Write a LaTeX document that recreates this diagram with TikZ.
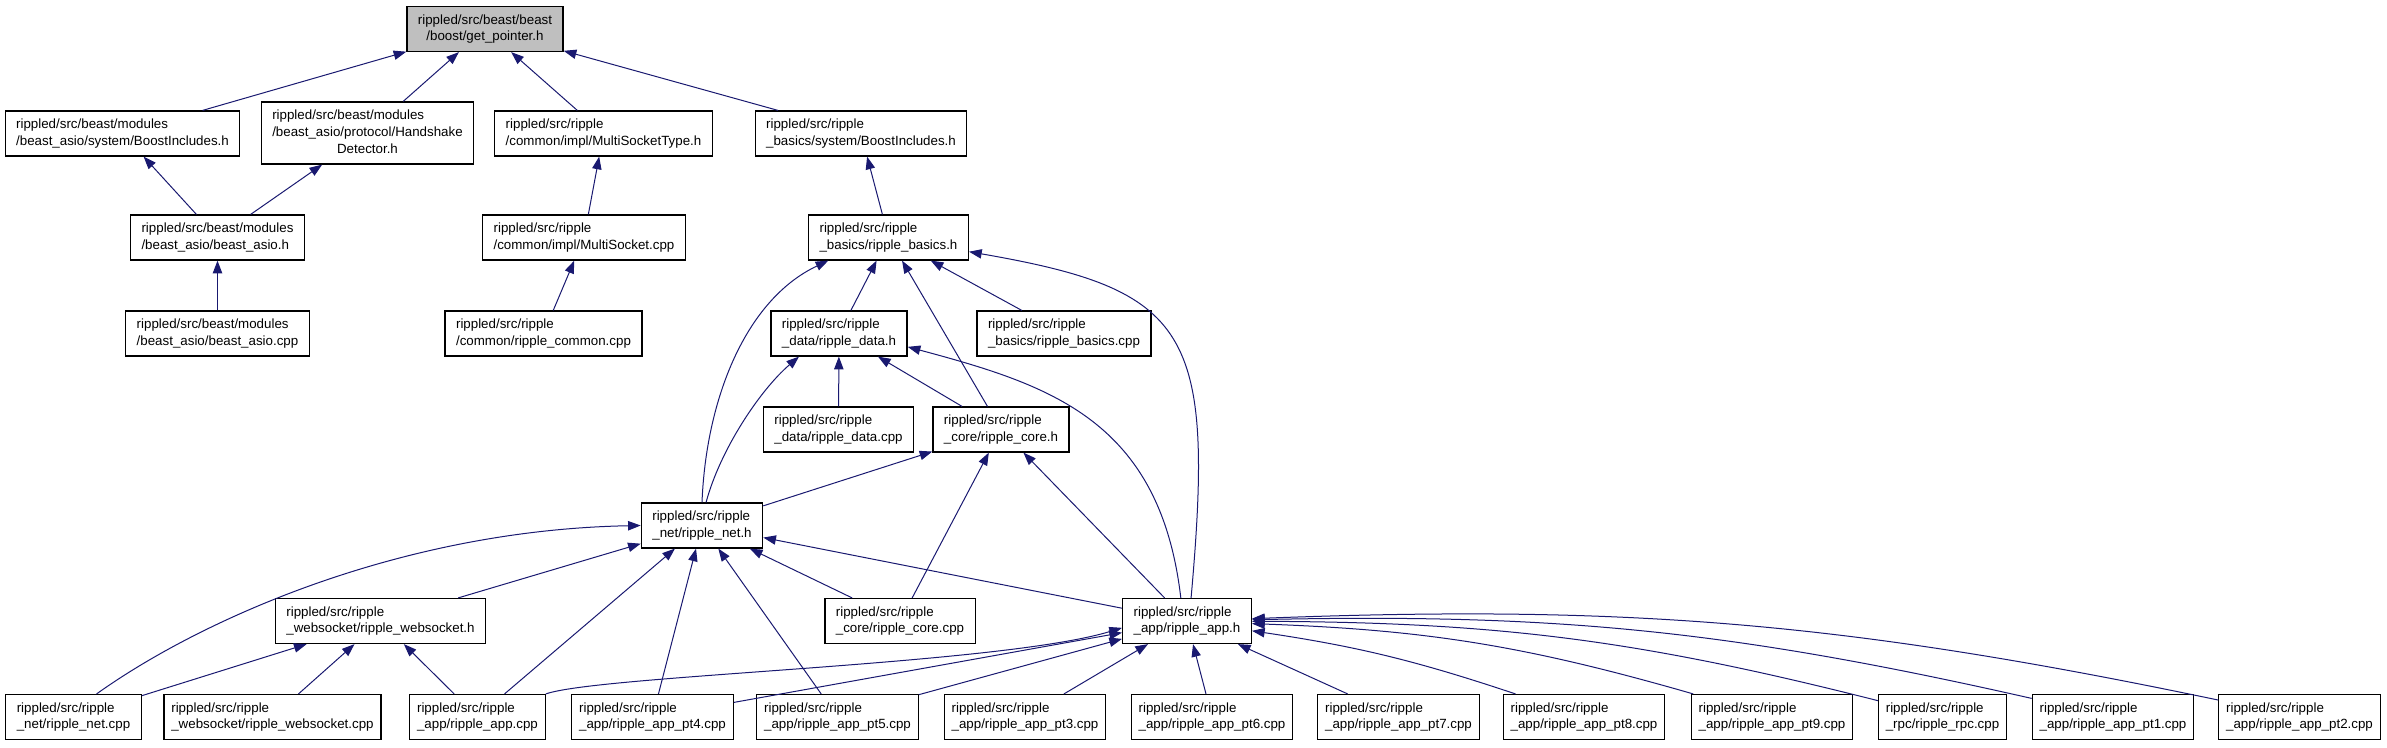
\documentclass[tikz,border=0pt]{standalone}
\usepackage{fontspec}
\setmainfont{Liberation Sans}
\usetikzlibrary{arrows.meta}
\definecolor{edgeblue}{RGB}{25,25,112}
\tikzset{
  file/.style={rectangle, draw=black, line width=0.9pt, align=left, font=\fontsize{10}{12.5}\selectfont, inner xsep=8.25pt, inner ysep=2pt, minimum height=33.75pt},
  root/.style={file, fill=gray!50, align=center},
  tall/.style={file, minimum height=46.5pt},
  leaf/.style={file, inner xsep=5.5pt},
  inc/.style={-{Triangle[length=9.5pt,width=7pt]}, draw=edgeblue, line width=0.75pt}
}

\begin{document}
\begin{tikzpicture}[x=0.75pt, y=-0.75pt]
\useasboundingbox (0,0) rectangle (2387,747);
\node[root] (gp) at (485,29) {rippled/src/beast/beast\\/boost/get\_pointer.h};

\node[file] (bia) at (122.5,133.5) {rippled/src/beast/modules\\/beast\_asio/system/BoostIncludes.h};
\node[tall] (hsd) at (367.5,133) {\begin{tabular}{@{}l@{}}rippled/src/beast/modules\\/beast\_asio/protocol/Handshake\\\multicolumn{1}{@{}c@{}}{Detector.h}\end{tabular}};
\node[file] (mst) at (603.5,133.5) {rippled/src/ripple\\/common/impl/MultiSocketType.h};
\node[file] (bib) at (861,133.5) {rippled/src/ripple\\\_basics/system/BoostIncludes.h};

\node[file] (bah) at (217.5,237.5) {rippled/src/beast/modules\\/beast\_asio/beast\_asio.h};
\node[file] (msc) at (584,237.5) {rippled/src/ripple\\/common/impl/MultiSocket.cpp};
\node[file] (rbh) at (888.5,237.5) {rippled/src/ripple\\\_basics/ripple\_basics.h};

\node[file] (bac) at (217.5,333.5) {rippled/src/beast/modules\\/beast\_asio/beast\_asio.cpp};
\node[file] (rcc) at (543.5,333.5) {rippled/src/ripple\\/common/ripple\_common.cpp};
\node[file] (rdh) at (839,333.5) {rippled/src/ripple\\\_data/ripple\_data.h};
\node[file] (rbc) at (1064,333.5) {rippled/src/ripple\\\_basics/ripple\_basics.cpp};

\node[file] (rdc) at (838.5,429.5) {rippled/src/ripple\\\_data/ripple\_data.cpp};
\node[file] (rch) at (1001,429.5) {rippled/src/ripple\\\_core/ripple\_core.h};

\node[file] (rnh) at (702,525.5) {rippled/src/ripple\\\_net/ripple\_net.h};

\node[file] (wsh) at (380.5,621) {rippled/src/ripple\\\_websocket/ripple\_websocket.h};
\node[file] (rcp) at (900,621) {rippled/src/ripple\\\_core/ripple\_core.cpp};
\node[file] (rah) at (1187,621) {rippled/src/ripple\\\_app/ripple\_app.h};

\node[file] (rnc) at (73.5,717) {rippled/src/ripple\\\_net/ripple\_net.cpp};
\node[leaf] (wsc) at (272.5,717) {rippled/src/ripple\\\_websocket/ripple\_websocket.cpp};
\node[leaf] (rac) at (477.5,717) {rippled/src/ripple\\\_app/ripple\_app.cpp};
\node[leaf] (pt4) at (652.5,717) {rippled/src/ripple\\\_app/ripple\_app\_pt4.cpp};
\node[leaf] (pt5) at (837.5,717) {rippled/src/ripple\\\_app/ripple\_app\_pt5.cpp};
\node[leaf] (pt3) at (1025,717) {rippled/src/ripple\\\_app/ripple\_app\_pt3.cpp};
\node[leaf] (pt6) at (1212,717) {rippled/src/ripple\\\_app/ripple\_app\_pt6.cpp};
\node[leaf] (pt7) at (1398.5,717) {rippled/src/ripple\\\_app/ripple\_app\_pt7.cpp};
\node[leaf] (pt8) at (1584,717) {rippled/src/ripple\\\_app/ripple\_app\_pt8.cpp};
\node[leaf] (pt9) at (1772,717) {rippled/src/ripple\\\_app/ripple\_app\_pt9.cpp};
\node[leaf] (rpc) at (1942.5,717) {rippled/src/ripple\\\_rpc/ripple\_rpc.cpp};
\node[leaf] (pt1) at (2113,717) {rippled/src/ripple\\\_app/ripple\_app\_pt1.cpp};
\node[leaf] (pt2) at (2299.5,717) {rippled/src/ripple\\\_app/ripple\_app\_pt2.cpp};

\draw[inc] (bia) -- (gp); \draw[inc] (hsd) -- (gp);
\draw[inc] (mst) -- (gp); \draw[inc] (bib) -- (gp);
\draw[inc] (bah) -- (bia); \draw[inc] (bah) -- (hsd);
\draw[inc] (bac) -- (bah);
\draw[inc] (msc) -- (mst); \draw[inc] (rcc) -- (msc);
\draw[inc] (rbh) -- (bib);
\draw[inc] (rdh) -- (rbh); \draw[inc] (rbc) -- (rbh); \draw[inc] (rch) -- (rbh);
\draw[inc] (rdc) -- (rdh); \draw[inc] (rch) -- (rdh);
\draw[inc] (rnh.north) .. controls (706,400) and (745,300) .. (rbh.201);
\draw[inc] (rnh.80) .. controls (720,450) and (760,390) .. (rdh.210);
\draw[inc] (rah.80) .. controls (1215,330) and (1190,290) .. (rbh.-10);
\draw[inc] (rah.105) .. controls (1160,420) and (1050,385) .. (rdh.-11);
\draw[inc] (rnh) -- (rch); \draw[inc] (rcp) -- (rch); \draw[inc] (rah) -- (rch);
\draw[inc] (wsh) -- (rnh); \draw[inc] (rac) -- (rnh); \draw[inc] (pt4) -- (rnh);
\draw[inc] (pt5) -- (rnh); \draw[inc] (rcp) -- (rnh); \draw[inc] (rah) -- (rnh);
\draw[inc] (rnc.45) .. controls (200,620) and (400,530) .. (rnh.west);
\draw[inc] (rnc) -- (wsh); \draw[inc] (wsc) -- (wsh); \draw[inc] (rac) -- (wsh);
\draw[inc] (rac.north east) .. controls (600,675) and (1000,665) .. (rah.186);
\draw[inc] (pt4) -- (rah); \draw[inc] (pt5) -- (rah); \draw[inc] (pt3) -- (rah);
\draw[inc] (pt6) -- (rah); \draw[inc] (pt7) -- (rah);
\draw[inc] (pt8) to[bend right=5] (rah);
\draw[inc] (pt9) to[bend right=7] (rah);
\draw[inc] (rpc) to[bend right=7] (rah);
\draw[inc] (pt1) to[bend right=7] (rah);
\draw[inc] (pt2) to[bend right=7] (rah);
\end{tikzpicture}
\end{document}
